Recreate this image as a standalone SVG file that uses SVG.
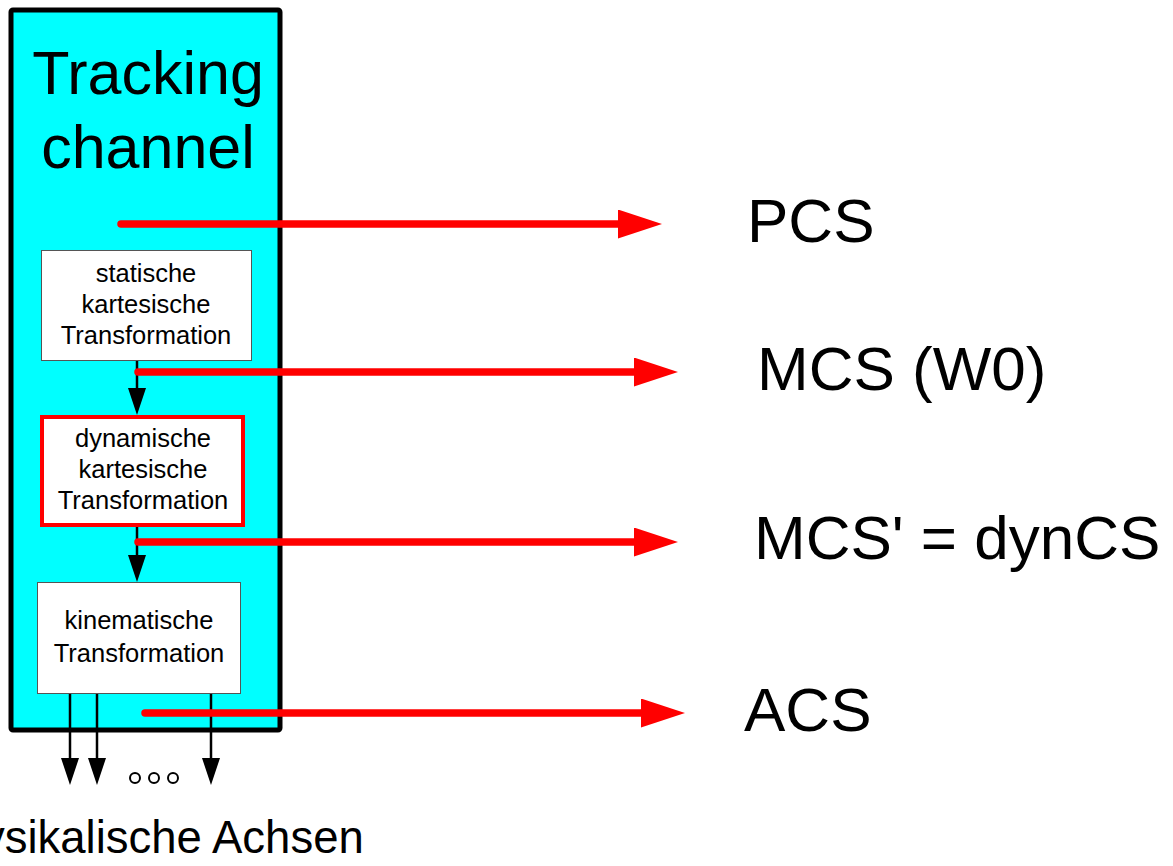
<svg xmlns="http://www.w3.org/2000/svg" width="1173" height="866" viewBox="0 0 1173 866">
<defs>
<style>
text{font-family:"Liberation Sans",Arial,sans-serif;fill:#000}
.t{font-size:25.5px;text-anchor:middle}
.lbl{font-size:62px}
.red{stroke:#ff0000;stroke-width:7.5;fill:none;stroke-linecap:round}
.blk{stroke:#000;stroke-width:2.5;fill:none}
</style>
<marker id="rh" markerUnits="userSpaceOnUse" markerWidth="44" markerHeight="30" refX="0" refY="14.5" orient="auto" viewBox="0 0 44 30">
<path d="M0,0 L44,14.5 L0,29 Z" fill="#ff0000"/>
</marker>
<marker id="bh" markerUnits="userSpaceOnUse" markerWidth="28" markerHeight="18" refX="0" refY="9" orient="auto" viewBox="0 0 28 18">
<path d="M0,0 L27,9 L0,18 Z" fill="#000"/>
</marker>
</defs>
<g id="tracking-channel">
<rect x="11" y="10" width="269" height="720" fill="#00ffff" stroke="#000" stroke-width="5" rx="2"/>
<text x="148" y="94" font-size="61" text-anchor="middle">Tracking</text>
<text x="148" y="168" font-size="61" text-anchor="middle">channel</text>
</g>
<g id="static">
<rect x="41.5" y="250.5" width="210" height="110" fill="#fff" stroke="#555" stroke-width="1"/>
<text class="t" x="146" y="282">statische</text>
<text class="t" x="146" y="313">kartesische</text>
<text class="t" x="146" y="344">Transformation</text>
</g>
<g id="dynamic">
<rect x="42" y="417" width="201" height="108" fill="#fff" stroke="#ff0000" stroke-width="4"/>
<text class="t" x="143" y="447">dynamische</text>
<text class="t" x="143" y="478">kartesische</text>
<text class="t" x="143" y="509">Transformation</text>
</g>
<g id="kinematic">
<rect x="37.5" y="582.5" width="203" height="111" fill="#fff" stroke="#555" stroke-width="1"/>
<text class="t" x="139" y="629">kinematische</text>
<text class="t" x="139" y="662">Transformation</text>
</g>
<g id="labels">
<text class="lbl" x="747" y="242">PCS</text>
<text class="lbl" x="757" y="390">MCS (W0)</text>
<text class="lbl" x="754" y="559">MCS' = dynCS</text>
<text class="lbl" x="744" y="731">ACS</text>
<text x="145" y="853" font-size="45.5" text-anchor="middle">Physikalische Achsen</text>
</g>
<g id="connectors">
<line class="blk" x1="137" y1="361" x2="137" y2="388" marker-end="url(#bh)"/>
<line class="blk" x1="137" y1="527" x2="137" y2="555" marker-end="url(#bh)"/>
<line class="blk" x1="70" y1="694" x2="70" y2="758" marker-end="url(#bh)"/>
<line class="blk" x1="97" y1="694" x2="97" y2="758" marker-end="url(#bh)"/>
<line class="blk" x1="211" y1="694" x2="211" y2="758" marker-end="url(#bh)"/>
<line class="red" x1="121" y1="224" x2="618" y2="224" marker-end="url(#rh)"/>
<line class="red" x1="138" y1="372" x2="634" y2="372" marker-end="url(#rh)"/>
<line class="red" x1="138" y1="542" x2="634" y2="542" marker-end="url(#rh)"/>
<line class="red" x1="145" y1="713" x2="641" y2="713" marker-end="url(#rh)"/>
<g fill="none" stroke="#000" stroke-width="2">
<circle cx="135" cy="778" r="5"/>
<circle cx="154" cy="778" r="5"/>
<circle cx="173" cy="778" r="5"/>
</g>
</g>
</svg>
